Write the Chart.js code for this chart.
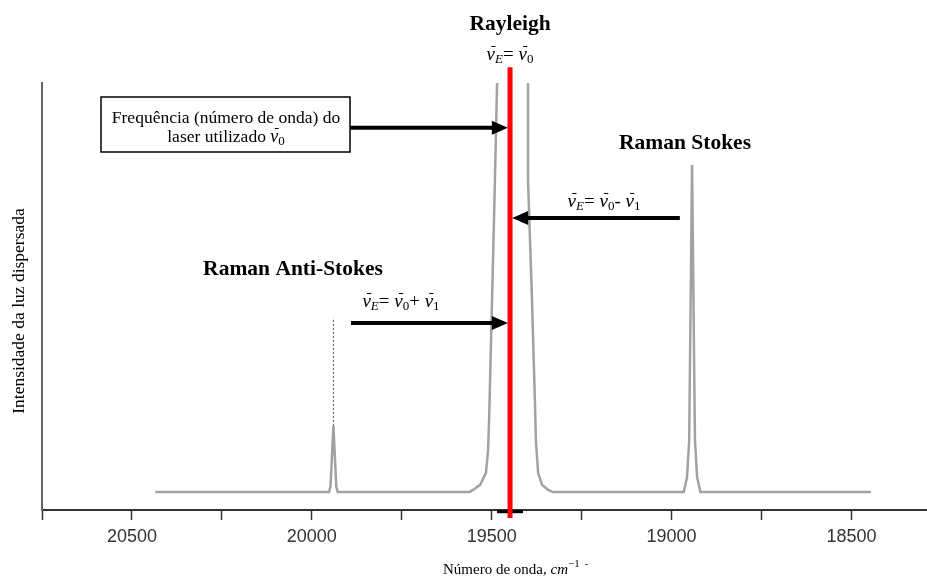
<!DOCTYPE html>
<html>
<head>
<meta charset="utf-8">
<script src="https://cdn.jsdelivr.net/npm/chart.js@4"></script>
<style>
  html, body { margin: 0; padding: 0; background: #fff; }
  #chart { display: block; }
</style>
</head>
<body>
<canvas id="chart" width="927" height="578"></canvas>
<script>
// ── Data (wavenumber in cm-1, intensity in arbitrary units 0-100) ──
const spectrumX = [20435, 19952, 19948, 19940, 19932, 19928,
                   19562, 19552, 19532, 19516, 19510, 19507, 19499, 19491, 19485, 19484,
                   19400, 19399, 19399, 19388, 19380, 19377, 19371, 19360, 19343, 19330,
                   18966, 18957, 18951, 18943, 18935, 18929, 18920, 18446];
const spectrumY = [4.2, 4.2, 5.5, 19.7, 5.5, 4.2,
                   4.2, 4.7, 5.9, 8.7, 14.1, 21.8, 49.2, 77.3, 100, 120,
                   120, 100, 77.3, 49.2, 25.8, 16, 8.7, 5.9, 4.7, 4.2,
                   4.2, 7.7, 16.4, 80.8, 16.4, 7.7, 4.2, 4.2];

const antiStokesGuideX = [19940, 19940];
const antiStokesGuideY = [19.7, 45];

const laserX = [19449, 19449];
const laserY = [-1.9, 103.7];

const markerX = [19485, 19413];
const markerY = [-0.4, -0.4];

const xTicks = [20750, 20500, 20250, 20000, 19750, 19500, 19250, 19000, 18750, 18500];

// arrows: [fromX, toX, y]
const arrows = [
  [19894, 19455, 89.5],
  [18977, 19443, 68.4],
  [19891, 19455, 43.8],
];

const toPts = (xs, ys) => xs.map((x, i) => ({ x, y: ys[i] }));

// ── Rich text helper ──────────────────────────────────────────────
const SERIF = "'Liberation Serif', 'Times New Roman', serif";
function drawRich(ctx, segs, x, y, align) {
  let w = 0;
  segs.forEach(s => { ctx.font = s.font; s.w = ctx.measureText(s.t).width; w += s.w; });
  let cx = align === "left" ? x : x - w / 2;
  ctx.textBaseline = "middle";
  ctx.textAlign = "left";
  segs.forEach(s => {
    ctx.font = s.font;
    ctx.fillText(s.t, cx, y + (s.dy || 0));
    if (s.bar) {
      // overbar of the wavenumber symbol (shifted right for the italic slant)
      ctx.save();
      ctx.strokeStyle = ctx.fillStyle;
      ctx.lineWidth = 1;
      ctx.beginPath();
      ctx.moveTo(cx + s.w * 0.55, y - 8.5);
      ctx.lineTo(cx + s.w * 1.05, y - 8.5);
      ctx.stroke();
      ctx.restore();
    }
    cx += s.w;
  });
}

const mathIt  = `italic 19px ${SERIF}`;
const mathSub = `italic 13px ${SERIF}`;
const mathSubN = `13px ${SERIF}`;
const mathRg  = `19px ${SERIF}`;
function formula(op) {
  const segs = [
    { t: "ν", font: mathIt, bar: true }, { t: "E", font: mathSub, dy: 5 },
    { t: "= ", font: mathRg }, { t: "ν", font: mathIt, bar: true }, { t: "0", font: mathSubN, dy: 5 },
  ];
  if (op) segs.push({ t: op + " ", font: mathRg }, { t: "ν", font: mathIt, bar: true }, { t: "1", font: mathSubN, dy: 5 });
  return segs;
}

// ── Annotation plugin ─────────────────────────────────────────────
const annotations = {
  id: "annotations",
  afterDraw(chart) {
    const { ctx, scales: { x, y } } = chart;
    ctx.save();
    ctx.fillStyle = "#000";

    // arrows
    arrows.forEach(([x0, x1, yv]) => {
      const px0 = x.getPixelForValue(x0), px1 = x.getPixelForValue(x1);
      const py = y.getPixelForValue(yv);
      const dir = Math.sign(px1 - px0);
      ctx.strokeStyle = "#000";
      ctx.lineWidth = 4;
      ctx.beginPath();
      ctx.moveTo(px0, py);
      ctx.lineTo(px1 - dir * 12, py);
      ctx.stroke();
      ctx.beginPath();
      ctx.moveTo(px1, py);
      ctx.lineTo(px1 - dir * 16, py - 7);
      ctx.lineTo(px1 - dir * 16, py + 7);
      ctx.closePath();
      ctx.fill();
    });

    // box
    ctx.strokeStyle = "#000";
    ctx.lineWidth = 1.5;
    ctx.strokeRect(101, 97, 249, 55);
    ctx.font = `17.5px ${SERIF}`;
    ctx.textAlign = "center";
    ctx.textBaseline = "middle";
    ctx.fillText("Frequência (número de onda) do", 226, 118);
    drawRich(ctx, [
      { t: "laser utilizado ", font: `17.5px ${SERIF}` },
      { t: "ν", font: `italic 18px ${SERIF}`, bar: true }, { t: "0", font: mathSubN, dy: 5 },
    ], 226, 137);

    // titles
    ctx.textAlign = "center";
    ctx.textBaseline = "middle";
    ctx.font = `bold 21.5px ${SERIF}`;
    ctx.fillText("Rayleigh", 510, 24);
    ctx.fillText("Raman Stokes", 685, 143);
    ctx.fillText("Raman Anti-Stokes", 293, 269);

    drawRich(ctx, formula(null), 510, 55);
    drawRich(ctx, formula("-"), 604, 202);
    drawRich(ctx, formula("+"), 401, 302);

    // axis titles
    drawRich(ctx, [
      { t: "Número de onda, ", font: `15px ${SERIF}` },
      { t: "cm", font: `italic 15px ${SERIF}` },
      { t: "−1", font: `11px ${SERIF}`, dy: -6 },
      { t: "  -", font: `10px ${SERIF}`, dy: -6 },
    ], 443, 570, "left");

    ctx.save();
    ctx.translate(19, 311);
    ctx.rotate(-Math.PI / 2);
    ctx.font = `17.5px ${SERIF}`;
    ctx.textAlign = "center";
    ctx.textBaseline = "middle";
    ctx.fillText("Intensidade da luz dispersada", 0, 0);
    ctx.restore();

    ctx.restore();
  }
};

// ── Chart ─────────────────────────────────────────────────────────
new Chart(document.getElementById("chart"), {
  type: "scatter",
  data: {
    datasets: [
      {
        data: toPts(spectrumX, spectrumY),
        showLine: true, borderColor: "#a2a2a2", borderWidth: 2.5,
        pointRadius: 0, tension: 0, order: 3,
      },
      {
        data: toPts(antiStokesGuideX, antiStokesGuideY),
        showLine: true, borderColor: "#555", borderWidth: 1, borderDash: [2, 2],
        pointRadius: 0, order: 2,
      },
      {
        data: toPts(markerX, markerY),
        showLine: true, borderColor: "#000", borderWidth: 3,
        pointRadius: 0, clip: false, order: 1,
      },
      {
        data: toPts(laserX, laserY),
        showLine: true, borderColor: "#ff0000", borderWidth: 5,
        pointRadius: 0, clip: false, order: 0,
      },
    ]
  },
  options: {
    responsive: false,
    animation: false,
    devicePixelRatio: 1,
    layout: { padding: { top: 83, left: 0, right: 0, bottom: 0 } },
    plugins: { legend: { display: false }, tooltip: { enabled: false } },
    scales: {
      x: {
        type: "linear", reverse: true, min: 18290, max: 20750,
        afterBuildTicks: s => { s.ticks = xTicks.map(v => ({ value: v })); },
        afterFit: s => { s.height = 68; },
        ticks: {
          autoSkip: false, maxRotation: 0, padding: 6, color: "#333",
          font: { family: "'Liberation Sans', Arial, sans-serif", size: 18 },
          callback: v => (v % 500 === 0 ? String(v) : ""),
        },
        grid: { drawOnChartArea: false, tickLength: 10, tickColor: "#333", tickWidth: 1.5 },
        border: { color: "#333", width: 2 },
      },
      y: {
        min: 0, max: 100,
        afterFit: s => { s.width = 42; },
        ticks: { display: false },
        grid: { display: false },
        border: { color: "#666", width: 2 },
      }
    }
  },
  plugins: [annotations]
});
</script>
</body>
</html>
